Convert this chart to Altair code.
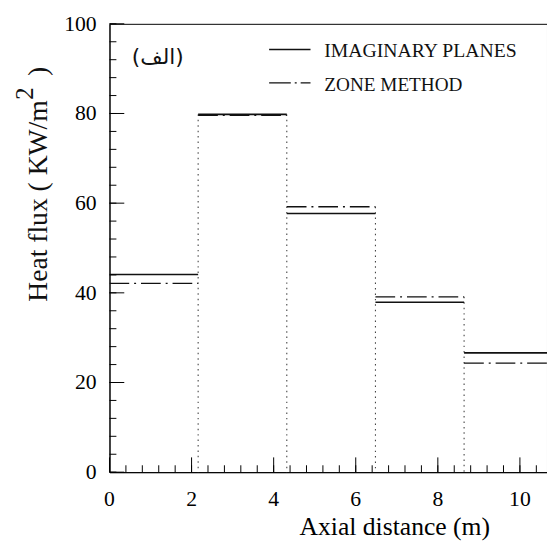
import altair as alt
import pandas as pd

# ---- data ----
zone_edges = [0.0, 2.16, 4.32, 6.48, 8.64, 10.8]
imaginary_planes = [44.1, 79.8, 57.7, 37.9, 26.6]
zone_method = [42.1, 79.6, 59.2, 39.1, 24.3]
x_major_ticks = [0, 2, 4, 6, 8, 10]
x_minor_ticks = [round(0.4 * i, 1) for i in range(0, 27)]
y_major_ticks = [0, 20, 40, 60, 80, 100]
y_minor_ticks = [4 * i for i in range(0, 26)]

X_MAX = 10.66
FONT = "Liberation Serif"

rows = []
for i in range(5):
    rows.append({"series": "IMAGINARY PLANES", "x0": zone_edges[i], "x1": zone_edges[i + 1], "v": imaginary_planes[i]})
    rows.append({"series": "ZONE METHOD", "x0": zone_edges[i], "x1": zone_edges[i + 1], "v": zone_method[i]})
seg = pd.DataFrame(rows)

bounds = pd.DataFrame({
    "b": zone_edges[1:5],
    "top": [max(imaginary_planes[i], zone_method[i], imaginary_planes[i + 1], zone_method[i + 1]) for i in range(4)],
})

xscale = alt.Scale(domain=[0, X_MAX], nice=False, zero=False)
yscale = alt.Scale(domain=[0, 100], nice=False)

xaxis = alt.Axis(values=x_major_ticks, ticks=False, tickSize=0, grid=False, labels=False,
                 title="Axial distance (m)", titleX=289, titleY=63,
                 titleAlign="center", titleBaseline="alphabetic")
yaxis = alt.Axis(values=y_major_ticks, ticks=False, tickSize=0, grid=False, labels=False, title=None)

solid = alt.Chart(seg).transform_filter(alt.datum.series == "IMAGINARY PLANES").mark_rule(
    color="#111", strokeWidth=1.6, clip=True
).encode(
    x=alt.X("x0:Q", scale=xscale, axis=xaxis),
    x2="x1:Q",
    y=alt.Y("v:Q", scale=yscale, axis=yaxis),
)

dashdot = alt.Chart(seg).transform_filter(alt.datum.series == "ZONE METHOD").mark_rule(
    color="#111", strokeWidth=1.3, strokeDash=[20, 5, 2, 5], clip=True
).encode(
    x=alt.X("x0:Q", scale=xscale, axis=xaxis),
    x2="x1:Q",
    y=alt.Y("v:Q", scale=yscale, axis=yaxis),
)

dotted = alt.Chart(bounds).mark_rule(color="#444", strokeWidth=1.1, strokeDash=[1.5, 4]).encode(
    x=alt.X("b:Q", scale=xscale, axis=xaxis),
    y=alt.Y("top:Q", scale=yscale, axis=yaxis),
    y2=alt.datum(0),
)

xt = pd.DataFrame({"tx": x_major_ticks})
yt = pd.DataFrame({"ty": y_major_ticks})

xmaj = alt.Chart(xt).mark_rule(color="black", strokeWidth=1).encode(
    x=alt.X("tx:Q", scale=xscale, axis=xaxis), y=alt.value(455), y2=alt.value(440))
xmin = alt.Chart(pd.DataFrame({"tx": x_minor_ticks})).mark_rule(color="black", strokeWidth=1, clip=True).encode(
    x=alt.X("tx:Q", scale=xscale, axis=xaxis), y=alt.value(455), y2=alt.value(448))
ymaj = alt.Chart(yt).mark_rule(color="black", strokeWidth=1).encode(
    y=alt.Y("ty:Q", scale=yscale, axis=yaxis), x=alt.value(0), x2=alt.value(15))
ymin = alt.Chart(pd.DataFrame({"ty": y_minor_ticks})).mark_rule(color="black", strokeWidth=1).encode(
    y=alt.Y("ty:Q", scale=yscale, axis=yaxis), x=alt.value(0), x2=alt.value(7))

# tick labels
xlab = alt.Chart(xt).mark_text(font=FONT, fontSize=22, align="center", baseline="alphabetic", color="black").encode(
    x=alt.X("tx:Q", scale=xscale, axis=xaxis), y=alt.value(489), text="tx:Q")
ylab = alt.Chart(yt).mark_text(font=FONT, fontSize=22, align="right", baseline="middle", color="black").encode(
    y=alt.Y("ty:Q", scale=yscale, axis=yaxis), x=alt.value(-13), text="ty:Q")

# legend (drawn by hand)
one = pd.DataFrame({"k": [0]})
leg_solid = alt.Chart(one).mark_rule(color="#111", strokeWidth=1.6).encode(
    x=alt.value(162), x2=alt.value(204), y=alt.value(26))
leg_dash = alt.Chart(one).mark_rule(color="#111", strokeWidth=1.3, strokeDash=[22, 4, 2, 4]).encode(
    x=alt.value(162), x2=alt.value(204), y=alt.value(60))
leg_t1 = alt.Chart(one).mark_text(
    text="IMAGINARY PLANES", font=FONT, fontSize=20, align="left", baseline="alphabetic", color="#111"
).encode(x=alt.value(218), y=alt.value(34))
leg_t2 = alt.Chart(one).mark_text(
    text="ZONE METHOD", font=FONT, fontSize=19.5, align="left", baseline="alphabetic", color="#111"
).encode(x=alt.value(218), y=alt.value(68))

arabic = alt.Chart(one).mark_text(
    text="(الف)", font="DejaVu Sans", fontSize=22, align="center", baseline="middle", color="#111"
).encode(x=alt.value(49), y=alt.value(34))

# y title with superscript
yt_main = alt.Chart(one).mark_text(
    text="Heat flux ( KW/m", font=FONT, fontSize=28, angle=270, align="left", baseline="alphabetic", color="#111"
).encode(x=alt.value(-63), y=alt.value(282))
yt_sup = alt.Chart(one).mark_text(
    text="2", font=FONT, fontSize=25, angle=270, align="left", baseline="alphabetic", color="#111"
).encode(x=alt.value(-78), y=alt.value(77))
yt_end = alt.Chart(one).mark_text(
    text=")", font=FONT, fontSize=28, angle=270, align="left", baseline="alphabetic", color="#111"
).encode(x=alt.value(-63), y=alt.value(53))

chart = alt.layer(
    dotted, solid, dashdot, xmaj, xmin, ymaj, ymin, xlab, ylab,
    leg_solid, leg_dash, leg_t1, leg_t2, arabic, yt_main, yt_sup, yt_end
).properties(
    width=444, height=455,
    autosize=alt.AutoSizeParams(type="none"),
    padding={"left": 103, "top": 12, "right": 0, "bottom": 80},
    background="white",
).configure_view(
    stroke="black", strokeWidth=1
).configure_axis(
    titleFont=FONT, titleFontSize=26, titleFontWeight="normal", titleColor="black",
    domainColor="black", domainWidth=1,
)

chart.save("out.html", embed_options={"renderer": "svg", "actions": False})
